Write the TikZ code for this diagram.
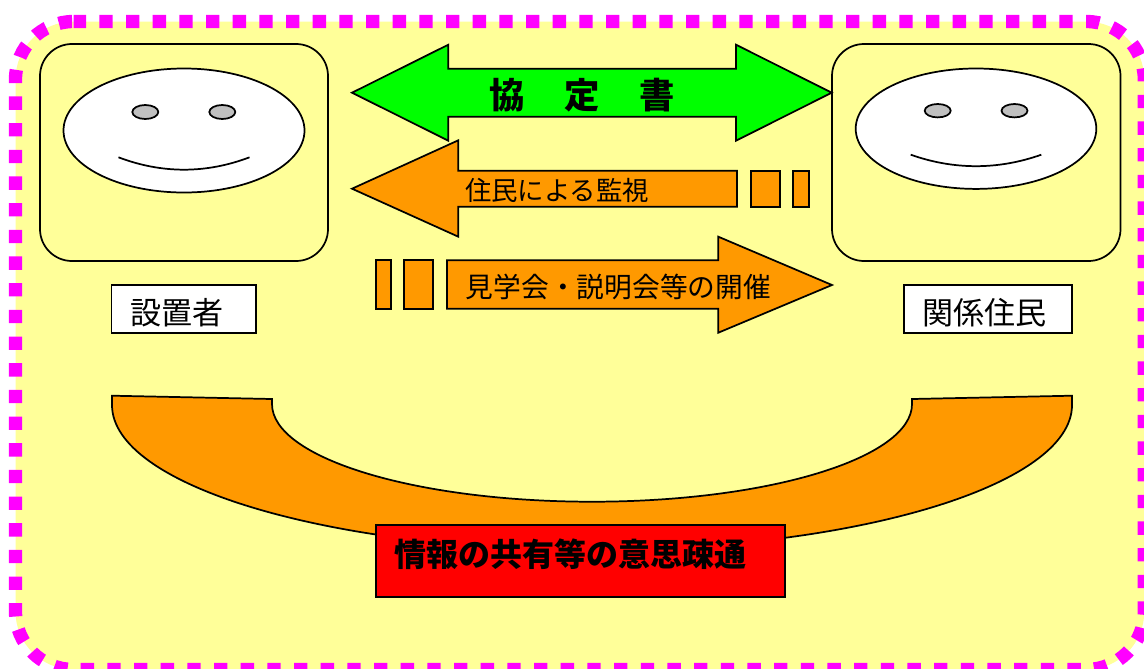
\documentclass[tikz,border=0pt]{standalone}
\usepackage{fontspec}
\setmainfont{Noto Sans CJK JP}
\definecolor{paleyellow}{HTML}{FFFF99}
\definecolor{bandorange}{HTML}{FF9900}
\definecolor{eyegray}{HTML}{C0C0C0}
\definecolor{framemagenta}{HTML}{FF00FF}
\definecolor{arrowgreen}{HTML}{00FF00}
\definecolor{boxred}{HTML}{FF0000}
\tikzset{
	outline/.style={draw=black,line width=1.3pt},
	framepath/.style={draw=framemagenta,fill=paleyellow,line width=10pt,dash pattern=on 10pt off 10pt,dash phase=0.6pt,rounded corners=43.5pt},
	personbox/.style={outline,rounded corners=24pt},
	face/.style={outline,fill=white},
	eye/.style={outline,fill=eyegray},
	namebox/.style={outline,fill=white,align=left,inner xsep=14pt,inner ysep=4pt,text height=26pt,text depth=2pt,font=\fontsize{23.3}{28}\selectfont},
	titlebox/.style={outline,fill=boxred,align=left,inner xsep=13.5pt,inner ysep=4pt,text width=279.75pt,text height=26.9pt,text depth=19.1pt,font=\fontsize{24}{28}\selectfont\bfseries}
}
\begin{document}
\begin{tikzpicture}[x=0.75pt,y=0.75pt]
	\tikzstyle{every node}+=[inner sep=0pt]
	\useasboundingbox (0,0) rectangle (1144,-668);
	\draw [framepath] (73.5,-21.5) -- (1144.3,-21.5) -- (1144.3,-669.5) -- (15.5,-669.5) -- (15.5,-21.5) -- (73.5,-21.5);
	\draw [personbox] (40,-44) rectangle (328,-261);
	\draw [personbox] (832,-44) rectangle (1120.5,-261);
	\draw [face] (184,-130.5) ellipse (120.5 and 62);
	\draw [eye] (145.3,-112) ellipse (13 and 7);
	\draw [eye] (222.3,-112) ellipse (13 and 7);
	\draw [black,line width=1.3pt] (118.5,-157.3) .. controls (162,-173.8) and (206,-173.8) .. (249.5,-157.3);
	\draw [face] (976,-128.7) ellipse (120.3 and 60.2);
	\draw [eye] (937.7,-110.7) ellipse (13 and 6.7);
	\draw [eye] (1014.5,-110.7) ellipse (13 and 6.7);
	\draw [black,line width=1.3pt] (910.7,-154.7) .. controls (954,-170) and (998,-170) .. (1041.3,-154.7);
	\draw [outline,fill=arrowgreen] (352,-92.7) -- (448.3,-44.7) -- (448.3,-68.7) -- (736,-68.7) -- (736,-44.7) -- (831.7,-92.7) -- (736,-140.7) -- (736,-116.7) -- (448.3,-116.7) -- (448.3,-140.7) -- cycle;
	\node (kyotei) at (582,-95) {\fontsize{26.5}{28}\selectfont\bfseries 協\hspace{29.7pt}定\hspace{29.7pt}書};
	\draw [outline,fill=bandorange] (352,-188.7) -- (458.3,-140.3) -- (458.3,-170.7) -- (737,-170.7) -- (737,-206.7) -- (458.3,-206.7) -- (458.3,-236.7) -- cycle;
	\draw [outline,fill=bandorange] (750.7,-170.7) rectangle (780,-206.7);
	\draw [outline,fill=bandorange] (793.3,-170.7) rectangle (808.7,-206.7);
	\node (kanshi) at (557,-190) {\fontsize{19.8}{24}\selectfont 住民による監視};
	\draw [outline,fill=bandorange] (832,-285) -- (718.3,-236.7) -- (718.3,-260.3) -- (447,-260.3) -- (447,-308.7) -- (718.3,-308.7) -- (718.3,-332.7) -- cycle;
	\draw [outline,fill=bandorange] (375.7,-260.3) rectangle (390.7,-308.7);
	\draw [outline,fill=bandorange] (404,-260.3) rectangle (433.3,-308.7);
	\node (kengaku) at (618.5,-287) {\fontsize{20.8}{24}\selectfont 見学会・説明会等の開催};
	\node [namebox,text width=80.5pt] (setchi) at (183.7,-308.7) {設置者};
	\node [namebox,text width=98.2pt] (jumin) at (988.2,-308.7) {関係住民};
	\draw [outline,fill=bandorange] (112,-395.7) -- (272,-399) -- (272,-404) arc [start angle=180,end angle=360,x radius=320,y radius=97.7] -- (912,-399) -- (1072,-395.7) -- (1072,-405) arc [start angle=360,end angle=180,x radius=480,y radius=145] -- cycle;
	\node [titlebox] (ishi) at (580.5,-561) {情報の共有等の意思疎通};
\end{tikzpicture}
\end{document}
